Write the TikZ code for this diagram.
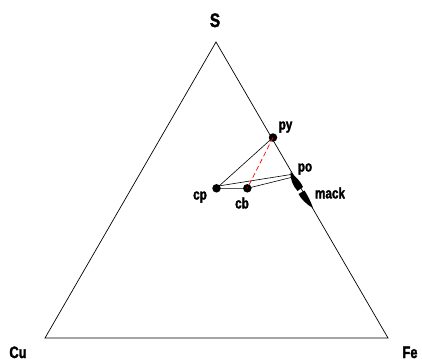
\documentclass[tikz,border=0pt]{standalone}
\usepackage{fontspec}
\newfontfamily\labfont[FakeStretch=0.78,FakeBold=2]{Liberation Sans Bold}
\begin{document}
\begin{tikzpicture}[x=1pt,y=-1pt,
  edge/.style={line width=0.7pt},
  tie/.style={line width=0.6pt},
  dot/.style={circle,fill=black,inner sep=0pt,minimum size=8.5pt},
  lab/.style={font=\labfont\fontsize{15}{15}\selectfont,inner sep=0pt},
  biglab/.style={font=\labfont\fontsize{16.5}{16.5}\selectfont,inner sep=0pt},
  toplab/.style={font=\labfont\fontsize{19.5}{19.5}\selectfont,inner sep=0pt}]
\useasboundingbox (0,0) rectangle (422,360);
\coordinate (S) at (216,42);
\coordinate (Cu) at (45,338);
\coordinate (Fe) at (388,338);
\coordinate (po1) at (291,174.5);
\coordinate (po2) at (291,177.5);
% mackinawite field
\fill (290.5,172) .. controls (296,177) and (301,182) .. (303,187) -- (297.5,191) .. controls (293,186) and (290,179) .. cycle;
\fill (298.5,194) -- (304.5,190.5) .. controls (308,196) and (311,202) .. (313,208) .. controls (306,204) and (301,199) .. cycle;
\draw[edge] (S) -- (Fe) -- (Cu) -- cycle;
\node[dot] (py) at (273,137.5) {};
\node[dot] (cp) at (216.5,188.3) {};
\node[dot] (cb) at (247.3,188.3) {};
\draw[tie] (cp.center) -- (py.center);
\draw[tie] (cp.center) ++(0,-2) -- (po1);
\draw[tie] (cp.center) -- (cb.center) -- (po2);
\draw[red,line width=0.7pt,dash pattern=on 5pt off 3pt] (py.center) -- (cb.center);
\node[toplab,anchor=base] (Slab) at (215,27) {S};
\node[biglab,anchor=base] (Culab) at (18,358) {Cu};
\node[biglab,anchor=base] (Felab) at (410,358) {Fe};
\node[lab] (pylab) at (285.5,127) {py};
\node[lab] (polab) at (305,169) {po};
\node[lab] (macklab) at (330,193) {mack};
\node[lab] (cplab) at (200,197) {cp};
\node[lab] (cblab) at (242,203) {cb};
\end{tikzpicture}
\end{document}
